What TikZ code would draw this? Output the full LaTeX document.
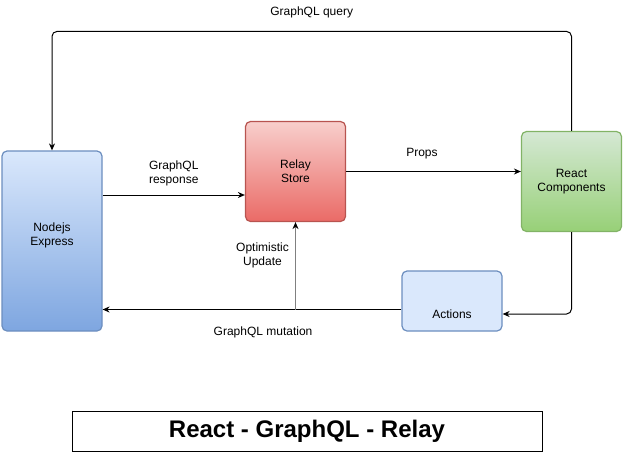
\documentclass[tikz,border=0pt]{standalone}
\usepackage{fontspec}
\setmainfont{Liberation Sans}
\usetikzlibrary{positioning, arrows.meta}
\definecolor{blueTop}{HTML}{DAE8FC}
\definecolor{blueBottom}{HTML}{7EA6E0}
\definecolor{blueLine}{HTML}{6C8EBF}
\definecolor{redTop}{HTML}{F8CECC}
\definecolor{redBottom}{HTML}{EA6B66}
\definecolor{redLine}{HTML}{B85450}
\definecolor{greenTop}{HTML}{D5E8D4}
\definecolor{greenBottom}{HTML}{97D077}
\definecolor{greenLine}{HTML}{82B366}
\tikzset{
	box/.style={draw, line width=1.2pt, rounded corners=5pt, align=center, inner sep=0pt, font=\fontsize{12}{14}\selectfont}, % common look of every box
	flow/.style={-{Stealth[length=7pt, width=6pt]}, line width=1pt}, % the connectors
	flow_label/.style={align=center, font=\fontsize{12}{14}\selectfont}, % texts on the connectors
}

\begin{document}
\begin{tikzpicture}[x=1pt, y=-1pt]
		\useasboundingbox (0,0) rectangle (624,453);

		\node[box, draw=blueLine, top color=blueTop, bottom color=blueBottom, minimum width=100pt, minimum height=180pt, text depth=14.5pt] (nodejs_node) at (52,241) {Nodejs\\Express};
		\node[box, draw=redLine, top color=redTop, bottom color=redBottom, minimum width=100pt, minimum height=100pt] (relay_node) at (295.5,171.5) {Relay\\Store};
		\node[box, draw=greenLine, top color=greenTop, bottom color=greenBottom, minimum width=100pt, minimum height=100pt] (react_node) at (571.5,181.5) {React\\Components};
		\node[box, draw=blueLine, fill=blueTop, minimum width=100pt, minimum height=60pt, text height=35pt] (actions_node) at (452,301) {Actions};
		\node[draw, line width=1pt, minimum width=470pt, minimum height=40pt, font=\bfseries\fontsize{24}{28}\selectfont] (title_node) at (307,431) {React - GraphQL - Relay};

		\draw[flow, rounded corners=5pt] (react_node.north) -- ++(0,-99.5) -| (nodejs_node.north)
			node[pos=0.25, flow_label, yshift=19pt] {GraphQL query};
		\draw[flow] (nodejs_node.east |- 0,195) -- (relay_node.west |- 0,195)
			node[midway, flow_label, yshift=22pt] {GraphQL\\response};
		\draw[flow] (relay_node.east |- 0,171.5) -- (react_node.west |- 0,171.5)
			node[pos=0.434, flow_label, yshift=18pt] {Props};
		\draw[flow, rounded corners=5pt] (react_node.south) |- (actions_node.east |- 0,314);
		\draw[flow] (actions_node.west |- 0,309.5) -- (nodejs_node.east |- 0,309.5)
			node[pos=0.463, flow_label, yshift=-23pt] {GraphQL mutation};
		\draw[flow, draw=gray, arrows={-Stealth[length=7pt, width=6pt, black]}] (relay_node.south |- 0,309.5) -- (relay_node.south)
			node[pos=0.62, flow_label, xshift=-33pt] {Optimistic\\Update};
	\end{tikzpicture}
\end{document}
